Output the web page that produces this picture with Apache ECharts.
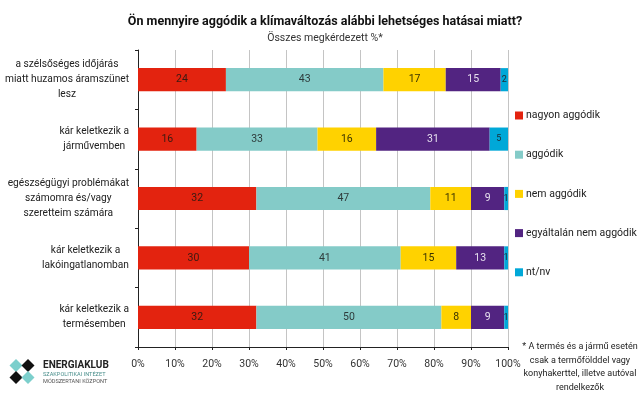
<!DOCTYPE html>
<html>
<head>
<meta charset="utf-8">
<script src="https://cdn.jsdelivr.net/npm/echarts@6/dist/echarts.min.js"></script>
<style>html,body{margin:0;padding:0;background:#fff;}#c{width:640px;height:399px;}</style>
</head>
<body>
<div id="c"></div>
<script>
var categories = [
  "a szélsőséges időjárás\nmiatt huzamos áramszünet\nlesz",
  "kár keletkezik a\njárművemben",
  "egészségügyi problémákat\nszámomra és/vagy\nszeretteim számára",
  "kár keletkezik a\nlakóingatlanomban",
  "kár keletkezik a\ntermésemben"
];
var seriesNames = ["nagyon aggódik", "aggódik", "nem aggódik", "egyáltalán nem aggódik", "nt/nv"];
var nagyonAggodik = [24, 16, 32, 30, 32];
var aggodik = [43, 33, 47, 41, 50];
var nemAggodik = [17, 16, 11, 15, 8];
var egyaltalanNem = [15, 31, 9, 13, 9];
var ntnv = [2, 5, 1, 1, 1];
var xTicks = ["0%","10%","20%","30%","40%","50%","60%","70%","80%","90%","100%"];

var colors = ["#e3230f", "#84cbc8", "#ffd200", "#522481", "#00a8d8"];
var labelColors = ["#3a1a12", "#2e3b3b", "#3a3300", "#e6e0ee", "#1a2a33"];
var raw = [nagyonAggodik, aggodik, nemAggodik, egyaltalanNem, ntnv];
var totals = categories.map(function(_, i){ return raw.reduce(function(s, a){ return s + a[i]; }, 0); });
var FONT = "'Roboto', sans-serif";

var series = raw.map(function(arr, k){
  return {
    name: seriesNames[k],
    type: 'bar',
    stack: 'all',
    barWidth: '39%',
    itemStyle: { color: colors[k] },
    data: arr.map(function(v, i){ return { value: v / totals[i] * 100, raw: v }; }),
    label: {
      show: true,
      position: 'inside',
      fontFamily: FONT,
      fontSize: (k === 4) ? 9 : 10.5,
      color: labelColors[k],
      formatter: function(p){ return p.data.raw; }
    }
  };
});

var chart = echarts.init(document.getElementById('c'), null, {renderer: 'canvas'});
chart.setOption({
  animation: false,
  title: [{
    text: "Ön mennyire aggódik a klímaváltozás alábbi lehetséges hatásai miatt?",
    left: 320, top: 10, textAlign: 'center',
    textStyle: { fontFamily: FONT, fontSize: 12.5, fontWeight: 'bold', color: '#111' }
  }, {
    text: "Összes megkérdezett %*",
    left: 320, top: 28, textAlign: 'center',
    textStyle: { fontFamily: FONT, fontSize: 10.5, fontWeight: 'normal', color: '#333' }
  }],
  legend: {
    orient: 'vertical',
    left: 510, top: 105,
    itemWidth: 8, itemHeight: 8,
    itemGap: 28.2,
    icon: 'rect',
    textStyle: { fontFamily: FONT, fontSize: 10.5, color: '#222', padding: [0,0,0,-2] },
    data: seriesNames
  },
  grid: { left: 138, right: 132, top: 50, bottom: 52, containLabel: false, outerBoundsMode: 'none' },
  xAxis: {
    type: 'value', min: 0, max: 100, interval: 10,
    axisLine: { show: true, lineStyle: { color: '#222', width: 1 } },
    axisTick: { show: true, length: 3, lineStyle: { color: '#222' } },
    splitLine: { show: true, lineStyle: { color: '#c4c4c4', width: 1 } },
    axisLabel: {
      fontFamily: FONT, fontSize: 10.5, color: '#333', margin: 12,
      formatter: function(v){ return xTicks[Math.round(v / 10)]; }
    }
  },
  yAxis: {
    type: 'category', inverse: true,
    data: categories,
    axisLine: { show: true, lineStyle: { color: '#222', width: 1 } },
    axisTick: { show: true, length: 3, lineStyle: { color: '#222' } },
    axisLabel: {
      margin: 9,
      formatter: function(v){ return v.split('\n').map(function(l){ return '{c|' + l + '}'; }).join('\n'); },
      rich: { c: { align: 'center', fontFamily: FONT, fontSize: 10.2, color: '#222', lineHeight: 15 } }
    }
  },
  series: series,
  graphic: [
    {
      type: 'text', position: [580, 340],
      style: {
        text: "* A termés és a jármű esetén\ncsak a termőfölddel vagy\nkonyhakerttel, illetve autóval\nrendelkezők",
        x: 0, y: 0, align: 'center', fontFamily: FONT, fontSize: 9, lineHeight: 13.5, fill: '#222'
      }
    },
    { type: 'polygon', shape: { points: [[16,359],[22.5,365.5],[16,372],[9.5,365.5]] }, style: { fill: '#7ccfcc' } },
    { type: 'polygon', shape: { points: [[28,359],[34.5,365.5],[28,372],[21.5,365.5]] }, style: { fill: '#111' } },
    { type: 'polygon', shape: { points: [[16,371],[22.5,377.5],[16,384],[9.5,377.5]] }, style: { fill: '#111' } },
    { type: 'polygon', shape: { points: [[28,371],[34.5,377.5],[28,384],[21.5,377.5]] }, style: { fill: '#7ccfcc' } },
    { type: 'text', position: [43, 360], style: { text: 'ENERGIAKLUB', fontFamily: FONT, fontWeight: 'bold', fontSize: 10, fill: '#222' } },
    { type: 'text', position: [43, 372], style: { text: 'SZAKPOLITIKAI INTÉZET', fontFamily: FONT, fontSize: 5.6, fill: '#4a8f8c' } },
    { type: 'text', position: [43, 379], style: { text: 'MÓDSZERTANI KÖZPONT', fontFamily: FONT, fontSize: 5.6, fill: '#555' } }
  ]
});
</script>
</body>
</html>
